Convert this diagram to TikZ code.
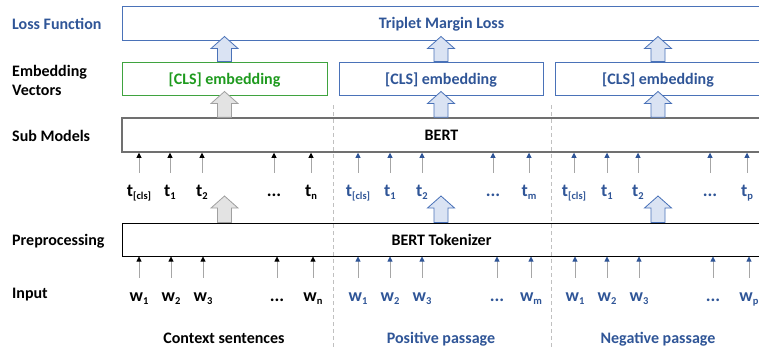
\documentclass[tikz,border=0pt]{standalone}
\usepackage{fontspec}
\setmainfont{Carlito}
\usetikzlibrary{arrows.meta,calc}

\definecolor{txtblue}{HTML}{2F5597}
\definecolor{boxblue}{HTML}{4A72B8}
\definecolor{fillblue}{HTML}{DAE3F3}
\definecolor{txtgreen}{HTML}{1E9A1E}
\definecolor{boxgreen}{HTML}{3FA33F}
\definecolor{fillgrey}{HTML}{E3E3E3}
\definecolor{edgegrey}{HTML}{A0A0A0}
\definecolor{shaftgrey}{HTML}{A6A6A6}
\definecolor{bertgrey}{HTML}{707070}
\definecolor{sepgrey}{HTML}{C0C0C0}

% small lowered index after a token letter
\newcommand\sub[1]{\raisebox{-3.5pt}{\fontsize{10.5}{12}\selectfont #1}}
\newcommand\tdots{...}

% wide hollow arrow from #2 (bottom) up to #3 (top, overlapping it by 4pt)
\newcommand\fatarrow[3]{%
  \draw[#1] let \p1=#2, \p2=#3 in
    (\x1-7pt,\y1) -- (\x1-7pt,\y2-8pt) -- (\x1-13.5pt,\y2-8pt) --
    (\x1,\y2+4pt) -- (\x1+13.5pt,\y2-8pt) -- (\x1+7pt,\y2-8pt) --
    (\x1+7pt,\y1) -- cycle;}

\begin{document}
\begin{tikzpicture}[x=1pt,y=-1pt,
  every node/.style={font=\fontsize{16}{19}\selectfont\bfseries, inner sep=0pt},
  layerlabel/.style={anchor=base west},
  layerbox/.style={rectangle, text height=11pt, text depth=0pt},
  tok/.style={anchor=base, text height=11pt, text depth=0pt,
    font=\fontsize{18}{21}\selectfont\bfseries},
  smallarrow/.style={draw=shaftgrey, line width=0.8pt, shorten <=12pt,
    -{Triangle[width=5pt,length=5pt,color=#1]}},
  bluefat/.style={draw=boxblue, fill=fillblue, line width=0.8pt, line join=miter},
  greyfat/.style={draw=edgegrey, fill=fillgrey, line width=0.8pt, line join=miter},
  sepline/.style={draw=sepgrey, line width=0.8pt, dash pattern=on 4pt off 3pt}]
\useasboundingbox (0,0) rectangle (759,349);
\clip (0,0) rectangle (759,349);

% column separators
\draw[sepline] (333,105) -- (333,349);
\draw[sepline] (551,105) -- (551,349);

% layer labels
\node[layerlabel, text=txtblue] (lbl1) at (12,29) {Loss Function};
\node[layerlabel] (lbl2a) at (12,76) {Embedding};
\node[layerlabel] (lbl2b) at (12,95) {Vectors};
\node[layerlabel] (lbl3) at (12,141) {Sub Models};
\node[layerlabel] (lbl4) at (12,245) {Preprocessing};
\node[layerlabel] (lbl5) at (12,298) {Input};

% layer boxes
\node[layerbox, draw=boxblue, line width=1pt, text=txtblue,
  minimum width=639, minimum height=34] (loss) at (441.5,23) {Triplet Margin Loss};
\node[layerbox, draw=boxgreen, line width=1pt, text=txtgreen,
  minimum width=205, minimum height=33] (emb1) at (224.5,78.5) {[CLS] embedding};
\node[layerbox, draw=boxblue, line width=1pt, text=txtblue,
  minimum width=204, minimum height=33] (emb2) at (441,78.5) {[CLS] embedding};
\node[layerbox, draw=boxblue, line width=1pt, text=txtblue,
  minimum width=206, minimum height=33] (emb3) at (658,78.5) {[CLS] embedding};
\node[layerbox, draw=bertgrey, line width=1.5pt,
  minimum width=639, minimum height=34] (bert) at (441.5,135) {BERT};
\node[layerbox, draw=black, line width=1pt,
  minimum width=639, minimum height=33] (tokenizer) at (441.5,239.5) {BERT Tokenizer};

% wide arrows between layers
\fatarrow{bluefat}{(emb1.north)}{(emb1.north |- loss.south)}
\fatarrow{bluefat}{(emb2.north)}{(emb2.north |- loss.south)}
\fatarrow{bluefat}{(emb3.north)}{(emb3.north |- loss.south)}
\fatarrow{greyfat}{(emb1.center |- bert.north)}{(emb1.south)}
\fatarrow{bluefat}{(emb2.center |- bert.north)}{(emb2.south)}
\fatarrow{bluefat}{(emb3.center |- bert.north)}{(emb3.south)}
\coordinate (tokrow) at (0,200);
\fatarrow{greyfat}{(emb1.center |- tokenizer.north)}{(emb1.center |- tokrow)}
\fatarrow{bluefat}{(emb2.center |- tokenizer.north)}{(emb2.center |- tokrow)}
\fatarrow{bluefat}{(emb3.center |- tokenizer.north)}{(emb3.center |- tokrow)}

% tokens fed into BERT
\foreach \x/\lab [count=\i] in {139/{t\sub{[cls]}},170/{t\sub{1}},202/{t\sub{2}},274/{\tdots},311/{t\sub{n}}}{
  \node[tok] (ct\i) at (\x,196) {\lab};
  \draw[smallarrow=black] (ct\i.north -| \x,0) -- (\x,0 |- bert.south);
}
\foreach \x/\lab [count=\i] in {358/{t\sub{[cls]}},390/{t\sub{1}},422/{t\sub{2}},493/{\tdots},529/{t\sub{m}}}{
  \node[tok, text=txtblue] (pt\i) at (\x,196) {\lab};
  \draw[smallarrow=txtblue] (pt\i.north -| \x,0) -- (\x,0 |- bert.south);
}
\foreach \x/\lab [count=\i] in {574/{t\sub{[cls]}},607/{t\sub{1}},638/{t\sub{2}},710/{\tdots},747/{t\sub{p}}}{
  \node[tok, text=txtblue] (nt\i) at (\x,196) {\lab};
  \draw[smallarrow=txtblue] (nt\i.north -| \x,0) -- (\x,0 |- bert.south);
}

% input words fed into the tokenizer
\foreach \x/\lab [count=\i] in {139/{w\sub{1}},171/{w\sub{2}},203/{w\sub{3}},277/{\tdots},313/{w\sub{n}}}{
  \node[tok] (cw\i) at (\x,301) {\lab};
  \draw[smallarrow=black] (cw\i.north -| \x,0) -- (\x,0 |- tokenizer.south);
}
\foreach \x/\lab [count=\i] in {358/{w\sub{1}},390/{w\sub{2}},422/{w\sub{3}},497/{\tdots},531/{w\sub{m}}}{
  \node[tok, text=txtblue] (pw\i) at (\x,301) {\lab};
  \draw[smallarrow=txtblue] (pw\i.north -| \x,0) -- (\x,0 |- tokenizer.south);
}
\foreach \x/\lab [count=\i] in {575/{w\sub{1}},607/{w\sub{2}},639/{w\sub{3}},713/{\tdots},749/{w\sub{p}}}{
  \node[tok, text=txtblue] (nw\i) at (\x,301) {\lab};
  \draw[smallarrow=txtblue] (nw\i.north -| \x,0) -- (\x,0 |- tokenizer.south);
}

% column captions
\node[anchor=base] (cap1) at (224,343) {Context sentences};
\node[anchor=base, text=txtblue] (cap2) at (441,343) {Positive passage};
\node[anchor=base, text=txtblue] (cap3) at (658,343) {Negative passage};
\end{tikzpicture}
\end{document}
